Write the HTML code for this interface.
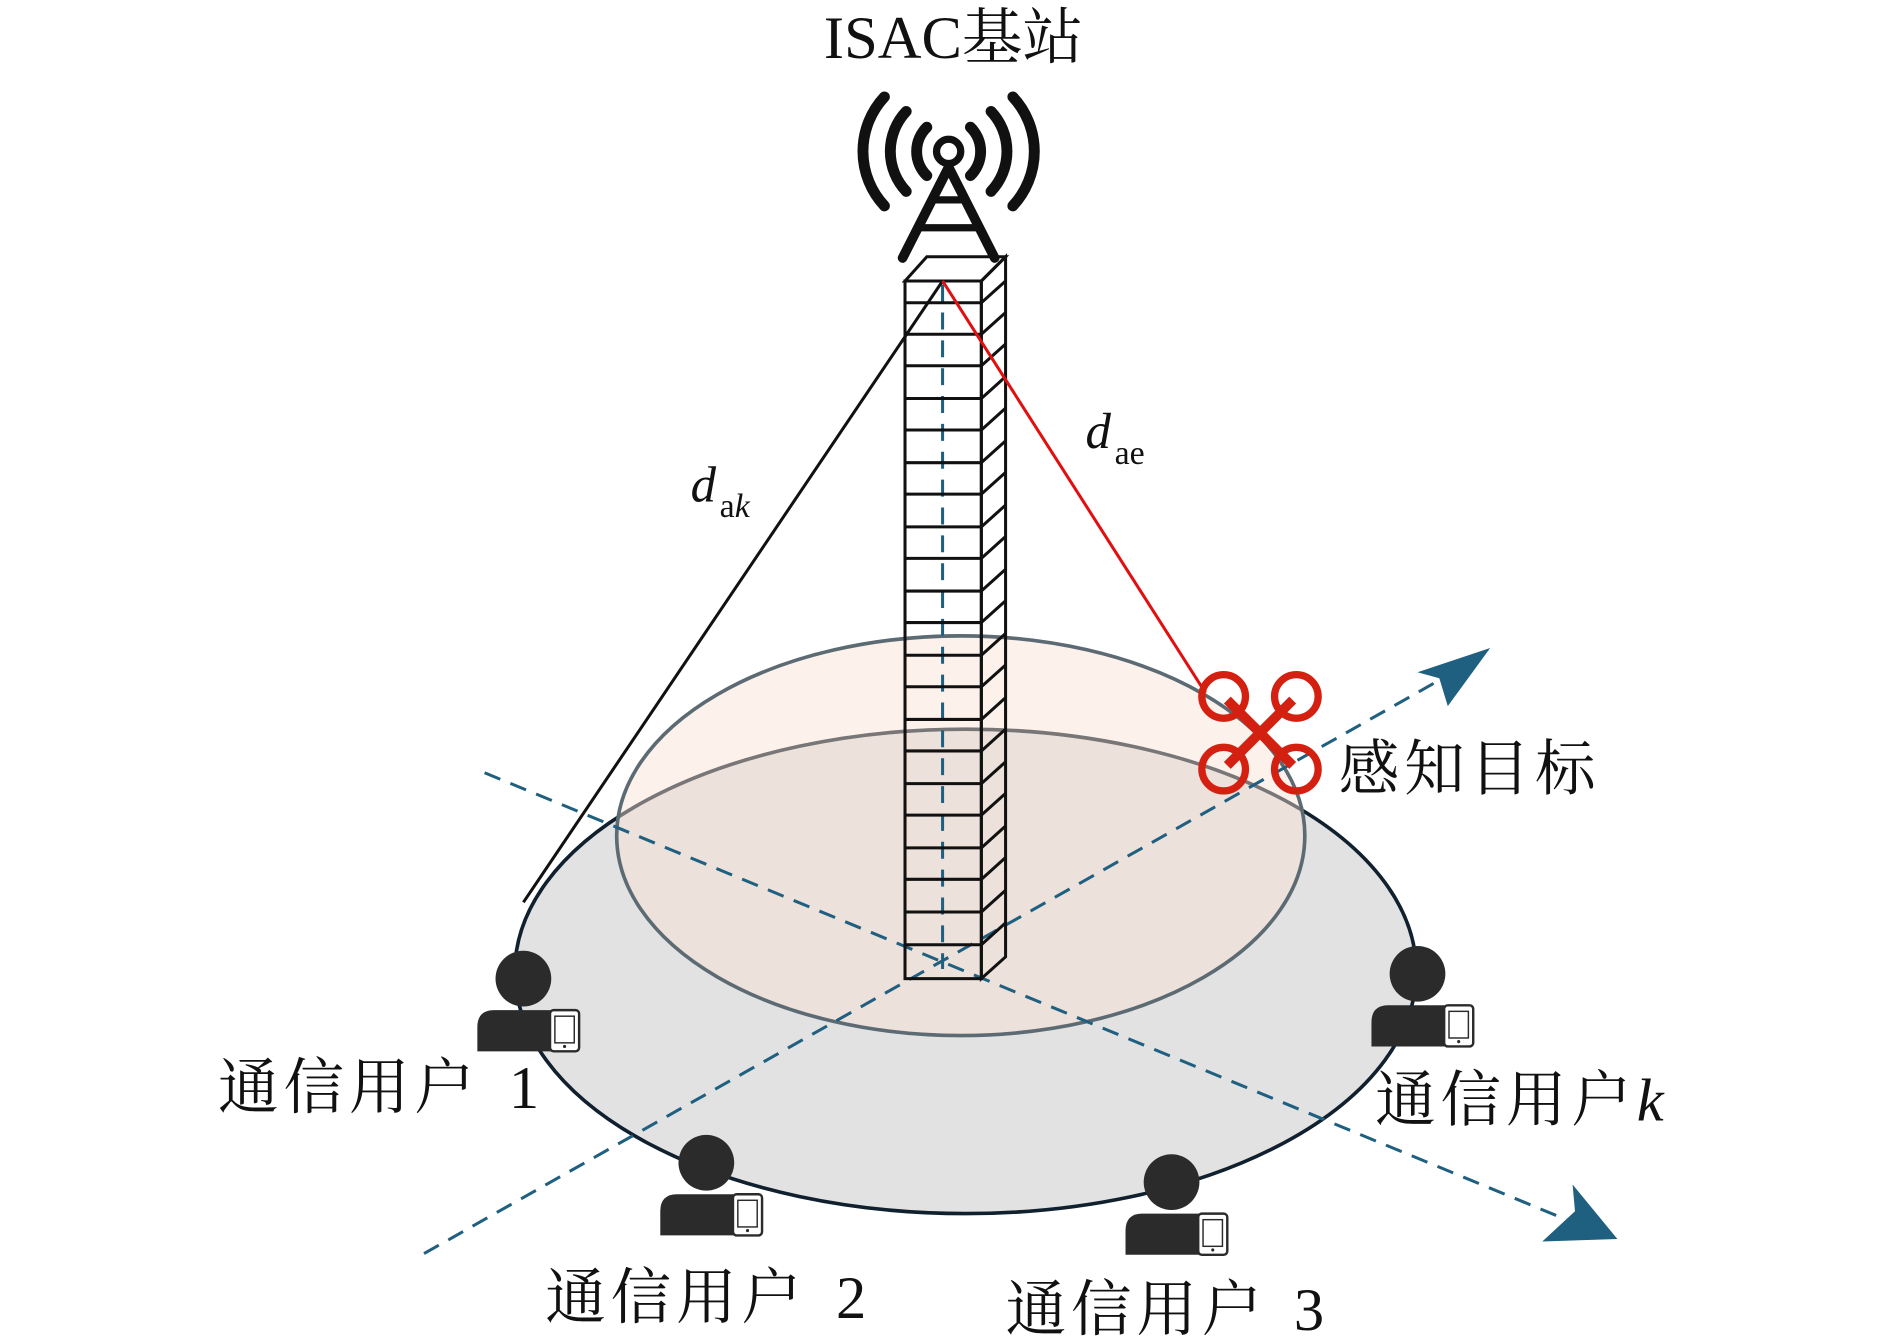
<!DOCTYPE html>
<html><head><meta charset="utf-8"><style>
html,body{margin:0;padding:0;background:#fff;}
svg{display:block;}
text{font-family:"Liberation Serif","Noto Serif CJK SC",serif;fill:#111;}
</style></head><body>
<svg width="1890" height="1342" viewBox="0 0 1560 1108" preserveAspectRatio="none" xmlns="http://www.w3.org/2000/svg">
<defs>
<g id="user">
  <circle cx="0" cy="-22" r="23" fill="#2b2b2b"/>
  <path d="M-38,38 L-38,18 Q-38,4 -24,4 L24,4 Q34,4 34,14 L34,38 Z" fill="#2b2b2b"/>
  <rect x="22" y="4" width="24" height="34" rx="3" fill="#fff" stroke="#2b2b2b" stroke-width="2"/>
  <rect x="26" y="9" width="16" height="22" fill="none" stroke="#2b2b2b" stroke-width="1.2"/>
  <circle cx="34" cy="34" r="1.3" fill="#2b2b2b"/>
</g>
</defs>
<ellipse cx="797" cy="802" rx="372" ry="200" fill="#e2e2e2" stroke="#10202e" stroke-width="3"/>
<ellipse cx="793" cy="690" rx="284" ry="165" fill="rgba(250,225,210,0.45)" stroke="#5c6b73" stroke-width="3"/>
<g stroke="#1f5f80" stroke-width="2.5" stroke-dasharray="14,9" fill="none">
  <line x1="350" y1="1035" x2="1205" y2="552"/>
  <line x1="400" y1="638" x2="1305" y2="1012"/>
  <line x1="778" y1="235" x2="778" y2="800"/>
</g>
<path d="M1230,535 L1170,555 L1188,560 L1195,583 Z" fill="#1f5f80"/>
<path d="M1335,1023 L1298,978 L1300,1000 L1273,1025 Z" fill="#1f5f80"/>
<g stroke="#111" stroke-width="2.5" fill="#fff">
  <rect x="747" y="232" width="63" height="576" fill="none"/>
  <path d="M747,232 L765,212 L830,212 L810,232 Z"/>
  <path d="M810,232 L830,212 L830,790 L810,808 Z" fill="none"/>
</g>
<g stroke="#111" stroke-width="2.5">
  <line x1="747" y1="250" x2="810" y2="250"/><line x1="747" y1="276" x2="810" y2="276"/><line x1="747" y1="302" x2="810" y2="302"/><line x1="747" y1="329" x2="810" y2="329"/><line x1="747" y1="355" x2="810" y2="355"/><line x1="747" y1="382" x2="810" y2="382"/><line x1="747" y1="408" x2="810" y2="408"/><line x1="747" y1="435" x2="810" y2="435"/><line x1="747" y1="461" x2="810" y2="461"/><line x1="747" y1="488" x2="810" y2="488"/><line x1="747" y1="514" x2="810" y2="514"/><line x1="747" y1="541" x2="810" y2="541"/><line x1="747" y1="567" x2="810" y2="567"/><line x1="747" y1="594" x2="810" y2="594"/><line x1="747" y1="620" x2="810" y2="620"/><line x1="747" y1="647" x2="810" y2="647"/><line x1="747" y1="673" x2="810" y2="673"/><line x1="747" y1="700" x2="810" y2="700"/><line x1="747" y1="726" x2="810" y2="726"/><line x1="747" y1="753" x2="810" y2="753"/><line x1="747" y1="780" x2="810" y2="780"/>
  <line x1="810" y1="250" x2="830" y2="232"/><line x1="810" y1="276" x2="830" y2="258"/><line x1="810" y1="302" x2="830" y2="284"/><line x1="810" y1="329" x2="830" y2="311"/><line x1="810" y1="355" x2="830" y2="337"/><line x1="810" y1="382" x2="830" y2="364"/><line x1="810" y1="408" x2="830" y2="390"/><line x1="810" y1="435" x2="830" y2="417"/><line x1="810" y1="461" x2="830" y2="443"/><line x1="810" y1="488" x2="830" y2="470"/><line x1="810" y1="514" x2="830" y2="496"/><line x1="810" y1="541" x2="830" y2="523"/><line x1="810" y1="567" x2="830" y2="549"/><line x1="810" y1="594" x2="830" y2="576"/><line x1="810" y1="620" x2="830" y2="602"/><line x1="810" y1="647" x2="830" y2="629"/><line x1="810" y1="673" x2="830" y2="655"/><line x1="810" y1="700" x2="830" y2="682"/><line x1="810" y1="726" x2="830" y2="708"/><line x1="810" y1="753" x2="830" y2="735"/><line x1="810" y1="780" x2="830" y2="762"/>
</g>
<g stroke="#111" fill="none" stroke-width="9" stroke-linecap="round">
  <circle cx="783" cy="125" r="10" stroke-width="6"/>
  <path d="M765,105 A28,28 0 0 0 765,145"/>
  <path d="M801,105 A28,28 0 0 1 801,145"/>
  <path d="M748,92 A48,48 0 0 0 748,158"/>
  <path d="M818,92 A48,48 0 0 1 818,158"/>
  <path d="M730,80 A66,66 0 0 0 730,170"/>
  <path d="M836,80 A66,66 0 0 1 836,170"/>
  <path d="M783,138 L745,213 M783,138 L821,213" stroke-width="8"/>
  <path d="M770,165 L796,165 M760,188 L806,188" stroke-width="6"/>
</g>
<line x1="778" y1="232" x2="432" y2="745" stroke="#111" stroke-width="2.5"/>
<line x1="778" y1="232" x2="995" y2="572" stroke="#e01010" stroke-width="2.5"/>
<text x="570" y="414" font-size="42" font-style="italic">d</text><text x="594" y="427" font-size="28">a<tspan font-style="italic">k</tspan></text>
<text x="896" y="370" font-size="42" font-style="italic">d</text><text x="920" y="383" font-size="28">ae</text>
<g stroke="#d42010" fill="none" stroke-width="6">
  <line x1="1013" y1="578" x2="1067" y2="632" stroke-width="8"/>
  <line x1="1067" y1="578" x2="1013" y2="632" stroke-width="8"/>
  <circle cx="1010" cy="575" r="18"/><circle cx="1070" cy="575" r="18"/>
  <circle cx="1010" cy="635" r="18"/><circle cx="1070" cy="635" r="18"/>
</g>
<text x="1105" y="652" font-size="50" letter-spacing="4">感知目标</text>
<use href="#user" x="432" y="830"/>
<use href="#user" x="583" y="982"/>
<use href="#user" x="967" y="998"/>
<use href="#user" x="1170" y="826"/>
<text x="180" y="915" font-size="50" letter-spacing="4">通信用户</text><text x="420" y="915" font-size="50">1</text>
<text x="450" y="1088" font-size="50" letter-spacing="4">通信用户</text><text x="690" y="1088" font-size="50">2</text>
<text x="830" y="1098" font-size="50" letter-spacing="4">通信用户</text><text x="1068" y="1098" font-size="50">3</text>
<text x="1135" y="925" font-size="50" letter-spacing="4">通信用户<tspan font-style="italic">k</tspan></text>
<text x="787" y="48" font-size="50" text-anchor="middle">ISAC基站</text>
</svg>
</body></html>
